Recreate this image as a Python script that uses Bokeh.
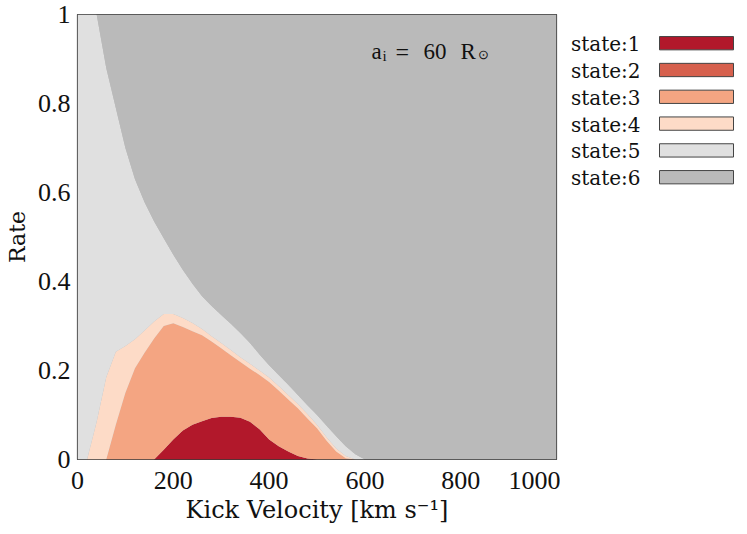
from bokeh.plotting import figure
from bokeh.models import ColumnDataSource, Range1d, FixedTicker, Label, LinearAxis
from bokeh.layouts import row
from bokeh.embed import file_html
from bokeh.resources import INLINE

# ---------------- data ----------------
velocity = [0, 20, 40, 60, 80, 100, 120, 140, 160, 180, 200, 220, 240, 260, 280,
            300, 320, 340, 360, 380, 400, 420, 440, 460, 480, 500, 520, 540, 560,
            580, 600, 1000]

state1 = [0, 0, 0, 0, 0, 0, 0, 0, 0, 0.022, 0.045, 0.065, 0.078, 0.086, 0.093,
          0.096, 0.096, 0.094, 0.085, 0.068, 0.045, 0.030, 0.018, 0.008, 0.002,
          0, 0, 0, 0, 0, 0, 0]
state2 = [0, 0, 0, 0, 0, 0, 0, 0, 0, 0, 0, 0, 0, 0, 0, 0, 0, 0, 0, 0, 0, 0, 0,
          0, 0, 0, 0, 0, 0, 0, 0, 0]
state3 = [0, 0, 0, 0, 0.078, 0.150, 0.205, 0.240, 0.272, 0.278, 0.261, 0.233,
          0.210, 0.193, 0.172, 0.154, 0.138, 0.125, 0.119, 0.122, 0.129, 0.125,
          0.117, 0.107, 0.090, 0.070, 0.042, 0.018, 0.003, 0, 0, 0]
state4 = [0, 0, 0.085, 0.185, 0.164, 0.105, 0.065, 0.050, 0.038, 0.027, 0.021,
          0.020, 0.019, 0.014, 0.012, 0.012, 0.012, 0.011, 0.011, 0.010, 0.010,
          0.010, 0.010, 0.010, 0.010, 0.008, 0.008, 0.007, 0.005, 0, 0, 0]
state5 = [1, 1, 0.915, 0.695, 0.548, 0.445, 0.360, 0.288, 0.225, 0.170, 0.133,
          0.108, 0.088, 0.074, 0.068, 0.063, 0.059, 0.054, 0.047, 0.036, 0.028,
          0.025, 0.023, 0.020, 0.020, 0.022, 0.026, 0.027, 0.022, 0.012, 0, 0]
state6 = [0, 0, 0, 0.12, 0.21, 0.30, 0.37, 0.422, 0.465, 0.503, 0.540, 0.574,
          0.605, 0.633, 0.655, 0.675, 0.695, 0.716, 0.738, 0.764, 0.788, 0.810,
          0.832, 0.855, 0.878, 0.900, 0.924, 0.948, 0.970, 0.988, 1, 1]

state_names = ["state1", "state2", "state3", "state4", "state5", "state6"]
legend_labels = ["state:1", "state:2", "state:3", "state:4", "state:5", "state:6"]
state_colors = ["#b2182b", "#d6604d", "#f4a582", "#fddbc7", "#e0e0e0", "#bababa"]

x_ticks = [0, 200, 400, 600, 800, 1000]
x_tick_labels = ["0", "200", "400", "600", "800", "1000"]
y_ticks = [0, 0.2, 0.4, 0.6, 0.8, 1]
y_tick_labels = ["0", "0.2", "0.4", "0.6", "0.8", "1"]

x_title = "Kick Velocity [km s\u207b\u00b9]"
y_title = "Rate"

# ---------------- layout constants ----------------
W, H = 560, 530
B_LEFT, B_RIGHT, B_TOP, B_BOTTOM = 77, 4, 14, 71
FRAME_TOP, FRAME_BOTTOM = B_TOP, H - B_BOTTOM

# ---------------- main plot ----------------
source = ColumnDataSource(dict(x=velocity, state1=state1, state2=state2,
                               state3=state3, state4=state4, state5=state5,
                               state6=state6))

p = figure(width=W, height=H, x_range=Range1d(0, 1000), y_range=Range1d(0, 1),
           output_backend="svg", toolbar_location=None,
           min_border_left=B_LEFT, min_border_right=B_RIGHT,
           min_border_top=B_TOP, min_border_bottom=B_BOTTOM)

p.varea_stack(stackers=state_names, x="x", color=state_colors, source=source)

p.grid.visible = False
p.outline_line_color = "#3a3a3a"
p.outline_line_width = 1.2
p.background_fill_color = "#bababa"

tick_font = "Liberation Serif"
title_font = "DejaVu Serif"

p.xaxis.ticker = FixedTicker(ticks=x_ticks)
p.xaxis.major_label_overrides = dict(zip(x_ticks, x_tick_labels))
p.yaxis.ticker = FixedTicker(ticks=y_ticks)
p.yaxis.major_label_overrides = dict(zip(y_ticks, y_tick_labels))


def plain_axis(ax):
    ax.axis_line_color = None
    ax.major_tick_line_color = None
    ax.minor_tick_line_color = None
    ax.major_tick_in = 0
    ax.major_tick_out = 0
    ax.minor_tick_in = 0
    ax.minor_tick_out = 0


for ax in (p.xaxis[0], p.yaxis[0]):
    plain_axis(ax)
    ax.major_label_text_font = tick_font
    ax.major_label_text_font_size = "26px"
    ax.major_label_text_color = "#111111"
    ax.axis_label_text_font = title_font
    ax.axis_label_text_font_style = "normal"
    ax.axis_label_text_color = "#111111"

p.xaxis.axis_label = x_title
p.yaxis.axis_label = y_title
p.xaxis.axis_label_text_font_size = "24px"
p.yaxis.axis_label_text_font_size = "22px"
p.xaxis.major_label_standoff = 12
p.yaxis.major_label_standoff = 7
p.xaxis.axis_label_standoff = 4
p.yaxis.axis_label_standoff = 5


# annotation  a_i = 60 R_sun
def px_to_x(px):
    return (px - B_LEFT) * 1000 / (W - B_LEFT - B_RIGHT)


def py_to_y(py):
    return (FRAME_BOTTOM - py) / (FRAME_BOTTOM - FRAME_TOP)


pieces = [("a", 371, 51, "23px"), ("i", 382, 55, "15px"), ("=", 395, 51, "24px"),
          ("60", 423, 51, "23px"), ("R", 460, 51, "23px"), ("\u2299", 477, 54, "13px")]
for txt, px, py, fs in pieces:
    p.add_layout(Label(x=px_to_x(px), y=py_to_y(py), text=txt,
                       text_font=tick_font, text_font_size=fs,
                       text_color="#111111", text_baseline="alphabetic",
                       text_align="left"))

# ---------------- legend panel (page-pixel coordinates) ----------------
LW = 180
LEG_LEFT = 90                      # legend frame starts at page x = W + LEG_LEFT
leg = figure(width=LW, height=H, x_range=Range1d(W + LEG_LEFT, W + LW),
             y_range=Range1d(FRAME_BOTTOM, FRAME_TOP),
             output_backend="svg", toolbar_location=None,
             x_axis_type=None, y_axis_type=None,
             min_border_left=LEG_LEFT, min_border_right=0,
             min_border_top=B_TOP, min_border_bottom=B_BOTTOM)
leg.outline_line_color = None
leg.grid.visible = False

row_y = [round(42.7 + i * 26.8, 1) for i in range(len(legend_labels))]
leg_src = ColumnDataSource(dict(color=state_colors, y=row_y))
leg.rect(x=696, y="y", width=74, height=13.3, fill_color="color",
         line_color="#444444", line_width=1, source=leg_src)

label_y = [v + 1 for v in row_y]
lab_axis = LinearAxis(ticker=FixedTicker(ticks=label_y),
                      major_label_overrides=dict(zip(label_y, legend_labels)))
plain_axis(lab_axis)
lab_axis.major_label_text_font = title_font
lab_axis.major_label_text_font_size = "20px"
lab_axis.major_label_text_color = "#111111"
lab_axis.major_label_standoff = 10
leg.add_layout(lab_axis, "left")

layout = row(p, leg)
open("out.html", "w").write(file_html(layout, INLINE))
